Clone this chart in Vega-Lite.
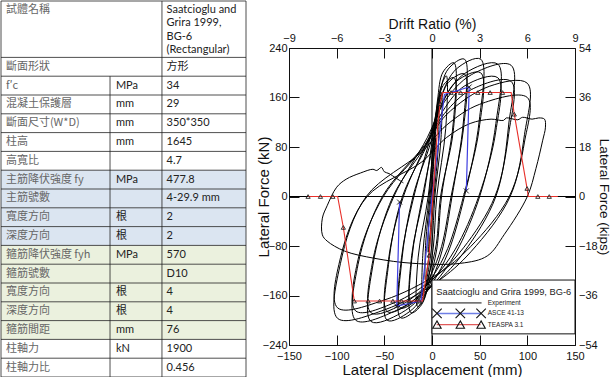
{
  "$schema": "https://vega.github.io/schema/vega-lite/v6.json",
  "width": 286,
  "height": 297,
  "padding": 0,
  "background": "white",
  "config": {
    "view": {"stroke": null},
    "axis": {
      "labelFont": "Liberation Sans",
      "titleFont": "Liberation Sans",
      "labelFontSize": 11,
      "titleFontWeight": "normal",
      "labelColor": "#111",
      "titleColor": "#111",
      "domainColor": "#111",
      "tickColor": "#111",
      "grid": false,
      "tickSize": -10,
      "labelPadding": 13,
      "labelFlush": false,
      "labelOverlap": false,
      "titlePadding": 2
    }
  },
  "layer": [
    {
      "data": {"values": [
        {"top": 0, "bot": 3, "grp": "none", "label": "試體名稱", "unit": "", "value": "Saatcioglu and\nGrira 1999,\nBG-6\n(Rectangular)"},
        {"top": 3, "bot": 4, "grp": "none", "label": "斷面形狀", "unit": "", "value": "方形"},
        {"top": 4, "bot": 5, "grp": "none", "label": "  f′c", "unit": "MPa", "value": "34"},
        {"top": 5, "bot": 6, "grp": "none", "label": "混凝土保護層", "unit": "mm", "value": "29"},
        {"top": 6, "bot": 7, "grp": "none", "label": "斷面尺寸(W*D)", "unit": "mm", "value": "350*350"},
        {"top": 7, "bot": 8, "grp": "none", "label": "柱高", "unit": "mm", "value": "1645"},
        {"top": 8, "bot": 9, "grp": "none", "label": "高寬比", "unit": "", "value": "4.7"},
        {"top": 9, "bot": 10, "grp": "main", "label": "主筋降伏強度 fy", "unit": "MPa", "value": "477.8"},
        {"top": 10, "bot": 11, "grp": "main", "label": "主筋號數", "unit": "", "value": "4-29.9 mm"},
        {"top": 11, "bot": 12, "grp": "main", "label": "寬度方向", "unit": "根", "value": "2"},
        {"top": 12, "bot": 13, "grp": "main", "label": "深度方向", "unit": "根", "value": "2"},
        {"top": 13, "bot": 14, "grp": "hoop", "label": "箍筋降伏強度 fyh", "unit": "MPa", "value": "570"},
        {"top": 14, "bot": 15, "grp": "hoop", "label": "箍筋號數", "unit": "", "value": "D10"},
        {"top": 15, "bot": 16, "grp": "hoop", "label": "寬度方向", "unit": "根", "value": "4"},
        {"top": 16, "bot": 17, "grp": "hoop", "label": "深度方向", "unit": "根", "value": "4"},
        {"top": 17, "bot": 18, "grp": "hoop", "label": "箍筋間距", "unit": "mm", "value": "76"},
        {"top": 18, "bot": 19, "grp": "none", "label": "柱軸力", "unit": "kN", "value": "1900"},
        {"top": 19, "bot": 20, "grp": "none", "label": "柱軸力比", "unit": "", "value": "0.456"}
      ]},
      "layer": [
        {
          "mark": {"type": "rect"},
          "encoding": {
            "x": {"datum": 0, "type": "quantitative", "scale": {"domain": [0, 100], "range": [-288, -43]}, "axis": null},
            "x2": {"datum": 100},
            "y": {"field": "top", "type": "quantitative", "scale": {"domain": [0, 20], "range": [-47, 329]}, "axis": null},
            "y2": {"field": "bot"},
            "color": {"field": "grp", "type": "nominal", "scale": {"domain": ["none", "main", "hoop"], "range": ["#ffffff", "#dbe5f1", "#ebf1de"]}, "legend": null}
          }
        },
        {
          "mark": {"type": "rule", "color": "#222", "strokeWidth": 0.8},
          "encoding": {
            "x": {"datum": 0, "type": "quantitative"},
            "x2": {"datum": 100},
            "y": {"field": "top", "type": "quantitative"}
          }
        },
        {
          "data": {"values": [{}]},
          "mark": {"type": "rule", "color": "#222", "strokeWidth": 0.8},
          "encoding": {
            "x": {"datum": 0, "type": "quantitative"},
            "x2": {"datum": 100},
            "y": {"datum": 20, "type": "quantitative"}
          }
        },
        {
          "data": {"values": [{}]},
          "mark": {"type": "rule", "color": "#222", "strokeWidth": 0.8},
          "encoding": {
            "x": {"datum": 0, "type": "quantitative"},
            "y": {"datum": 0, "type": "quantitative"},
            "y2": {"datum": 20}
          }
        },
        {
          "data": {"values": [{}]},
          "mark": {"type": "rule", "color": "#222", "strokeWidth": 0.8},
          "encoding": {
            "x": {"datum": 65.7, "type": "quantitative"},
            "y": {"datum": 0, "type": "quantitative"},
            "y2": {"datum": 20}
          }
        },
        {
          "data": {"values": [{}]},
          "mark": {"type": "rule", "color": "#222", "strokeWidth": 0.8},
          "encoding": {
            "x": {"datum": 100, "type": "quantitative"},
            "y": {"datum": 0, "type": "quantitative"},
            "y2": {"datum": 20}
          }
        },
        {
          "data": {"values": [{}]},
          "mark": {"type": "rule", "color": "#222", "strokeWidth": 0.8},
          "encoding": {
            "x": {"datum": 44.5, "type": "quantitative"},
            "y": {"datum": 4, "type": "quantitative"},
            "y2": {"datum": 20}
          }
        },
        {
          "transform": [{"filter": "datum.top > 0"}],
          "mark": {"type": "text", "align": "left", "baseline": "middle", "dy": 9.4, "font": "Noto Sans CJK TC", "fontSize": 11, "color": "#666"},
          "encoding": {
            "x": {"datum": 2, "type": "quantitative"},
            "y": {"field": "top", "type": "quantitative"},
            "text": {"field": "label"}
          }
        },
        {
          "transform": [{"filter": "datum.top == 0"}],
          "mark": {"type": "text", "align": "left", "baseline": "top", "dy": 2.5, "font": "Noto Sans CJK TC", "fontSize": 11, "color": "#666"},
          "encoding": {
            "x": {"datum": 2, "type": "quantitative"},
            "y": {"field": "top", "type": "quantitative"},
            "text": {"field": "label"}
          }
        },
        {
          "mark": {"type": "text", "align": "left", "baseline": "middle", "dy": 9.4, "font": "Lato, Noto Sans CJK TC", "fontSize": 11, "color": "#222"},
          "encoding": {
            "x": {"datum": 46.9, "type": "quantitative"},
            "y": {"field": "top", "type": "quantitative"},
            "text": {"field": "unit"}
          }
        },
        {
          "transform": [{"filter": "datum.top > 0"}],
          "mark": {"type": "text", "align": "left", "baseline": "middle", "dy": 9.4, "font": "Lato, Noto Sans CJK TC", "fontSize": 11, "color": "#222"},
          "encoding": {
            "x": {"datum": 67.6, "type": "quantitative"},
            "y": {"field": "top", "type": "quantitative"},
            "text": {"field": "value"}
          }
        },
        {
          "transform": [{"filter": "datum.top == 0"}],
          "mark": {"type": "text", "align": "left", "baseline": "top", "dy": 2.5, "lineBreak": "\n", "lineHeight": 13.6, "font": "Lato", "fontSize": 11, "color": "#222"},
          "encoding": {
            "x": {"datum": 67.6, "type": "quantitative"},
            "y": {"field": "top", "type": "quantitative"},
            "text": {"field": "value"}
          }
        }
      ]
    },
    {
      "layer": [
        {
          "data": {"values": [
            {"d": 0, "f": 0},
            {"d": 2, "f": 60}, {"d": 4, "f": 95}, {"d": 3.7, "f": 55}, {"d": 1, "f": 0}, {"d": -1.5, "f": -50}, {"d": -4, "f": -90},
            {"d": -3.7, "f": -50}, {"d": -1, "f": 0}, {"d": 2, "f": 70}, {"d": 4.5, "f": 115}, {"d": 7, "f": 140}, {"d": 6.6, "f": 80}, {"d": 2, "f": 0}, {"d": -1.5, "f": -65}, {"d": -4.5, "f": -112}, {"d": -7, "f": -135},
            {"d": -6.6, "f": -75}, {"d": -2, "f": 0}, {"d": 1.5, "f": 75}, {"d": 5.5, "f": 135}, {"d": 10, "f": 168}, {"d": 9.5, "f": 95}, {"d": 3, "f": 0}, {"d": 0, "f": -75}, {"d": -5, "f": -130}, {"d": -10, "f": -160},
            {"d": -9.5, "f": -90}, {"d": -3, "f": 0}, {"d": 1, "f": 80}, {"d": 6, "f": 150}, {"d": 10, "f": 180}, {"d": 15, "f": 195}, {"d": 14.4, "f": 110}, {"d": 5, "f": 0}, {"d": 1.5, "f": -80}, {"d": -4, "f": -135}, {"d": -9, "f": -168}, {"d": -15, "f": -178},
            {"d": -14.5, "f": -98}, {"d": -4, "f": 0}, {"d": 2.2, "f": 97}, {"d": 5.8, "f": 156}, {"d": 11.5, "f": 201}, {"d": 23, "f": 216}, {"d": 22.3, "f": 119}, {"d": 10, "f": 0}, {"d": 5, "f": -85}, {"d": -2, "f": -132}, {"d": -11, "f": -175}, {"d": -22, "f": -188},
            {"d": -21.3, "f": -103}, {"d": -10, "f": 0}, {"d": 1, "f": 86}, {"d": 5.8, "f": 138}, {"d": 11.5, "f": 179}, {"d": 23, "f": 192}, {"d": 22.3, "f": 106}, {"d": 9, "f": 0}, {"d": 4.5, "f": -77}, {"d": -2.1, "f": -120}, {"d": -11, "f": -160}, {"d": -22, "f": -172},
            {"d": -21.3, "f": -95}, {"d": -9, "f": 0}, {"d": 1.2, "f": 100}, {"d": 7.1, "f": 160}, {"d": 17, "f": 206}, {"d": 34, "f": 222}, {"d": 33, "f": 122}, {"d": 21, "f": 0}, {"d": 10.5, "f": -88}, {"d": -0.9, "f": -137}, {"d": -16.5, "f": -182}, {"d": -33, "f": -196},
            {"d": -32, "f": -108}, {"d": -20, "f": 0}, {"d": -1, "f": 89}, {"d": 7.1, "f": 143}, {"d": 17, "f": 184}, {"d": 34, "f": 198}, {"d": 33, "f": 109}, {"d": 20, "f": 0}, {"d": 10, "f": -81}, {"d": -1, "f": -126}, {"d": -16.5, "f": -167}, {"d": -33, "f": -180},
            {"d": -32, "f": -99}, {"d": -19, "f": 0}, {"d": -0.8, "f": 100}, {"d": 9.1, "f": 160}, {"d": 25.5, "f": 206}, {"d": 51, "f": 222}, {"d": 49.5, "f": 122}, {"d": 34, "f": 0}, {"d": 17, "f": -90}, {"d": 0.4, "f": -140}, {"d": -23.5, "f": -186}, {"d": -47, "f": -200},
            {"d": -45.6, "f": -110}, {"d": -31, "f": 0}, {"d": -3.2, "f": 90}, {"d": 9.1, "f": 144}, {"d": 25.5, "f": 186}, {"d": 51, "f": 200}, {"d": 49.5, "f": 110}, {"d": 33, "f": 0}, {"d": 16.5, "f": -84}, {"d": 0.3, "f": -130}, {"d": -23.5, "f": -173}, {"d": -47, "f": -186},
            {"d": -45.6, "f": -102}, {"d": -30, "f": 0}, {"d": -3, "f": 96}, {"d": 11.3, "f": 154}, {"d": 34.5, "f": 199}, {"d": 69, "f": 214}, {"d": 67, "f": 118}, {"d": 50, "f": 0}, {"d": 25, "f": -91}, {"d": 2, "f": -141}, {"d": -32, "f": -188}, {"d": -64, "f": -202},
            {"d": -62, "f": -111}, {"d": -41, "f": 0}, {"d": -5.2, "f": 86}, {"d": 11.3, "f": 138}, {"d": 34.5, "f": 179}, {"d": 69, "f": 192}, {"d": 67, "f": 106}, {"d": 49, "f": 0}, {"d": 24.5, "f": -85}, {"d": 1.9, "f": -132}, {"d": -32, "f": -175}, {"d": -64, "f": -188},
            {"d": -62, "f": -103}, {"d": -40, "f": 0}, {"d": -5, "f": 95}, {"d": 13, "f": 153}, {"d": 41.5, "f": 197}, {"d": 83, "f": 212}, {"d": 80.5, "f": 117}, {"d": 67, "f": 0}, {"d": 33.5, "f": -90}, {"d": 3.7, "f": -140}, {"d": -40, "f": -186}, {"d": -80, "f": -200},
            {"d": -77.6, "f": -110}, {"d": -52, "f": 0}, {"d": -7.4, "f": 84}, {"d": 13, "f": 134}, {"d": 41.5, "f": 173}, {"d": 83, "f": 186}, {"d": 80.5, "f": 102}, {"d": 66, "f": 0}, {"d": 33, "f": -83}, {"d": 3.6, "f": -130}, {"d": -40, "f": -172}, {"d": -80, "f": -185},
            {"d": -77.6, "f": -102}, {"d": -51, "f": 0}, {"d": -7.2, "f": 82}, {"d": 15, "f": 132}, {"d": 60, "f": 178}, {"d": 100, "f": 183}, {"d": 97, "f": 100}, {"d": 82, "f": 0}, {"d": 41, "f": -89}, {"d": 5.2, "f": -138}, {"d": -49.5, "f": -183}, {"d": -99, "f": -197},
            {"d": -96, "f": -108}, {"d": -69, "f": 0}, {"d": -10.8, "f": 72}, {"d": 15, "f": 115}, {"d": 50, "f": 149}, {"d": 100, "f": 160}, {"d": 97, "f": 88}, {"d": 81, "f": 0}, {"d": 40.5, "f": -81}, {"d": 5.1, "f": -126}, {"d": -49.5, "f": -167}, {"d": -99, "f": -180},
            {"d": -96, "f": -99}, {"d": -68, "f": 0}, {"d": -10.6, "f": 56}, {"d": 15, "f": 95}, {"d": 40, "f": 118}, {"d": 62, "f": 125}, {"d": 75, "f": 123}, {"d": 78, "f": 127}, {"d": 90, "f": 124}, {"d": 95, "f": 128}, {"d": 105, "f": 125}, {"d": 112, "f": 127}, {"d": 118, "f": 125},
            {"d": 119, "f": 112}, {"d": 116, "f": 90}, {"d": 109, "f": 45}, {"d": 100, "f": 0}, {"d": 76, "f": -61}, {"d": 58, "f": -96}, {"d": 30, "f": -108}, {"d": -20, "f": -108}, {"d": -60, "f": -100}, {"d": -92, "f": -88}, {"d": -110, "f": -72}, {"d": -115, "f": -62},
            {"d": -115, "f": -35}, {"d": -110, "f": -15}, {"d": -100, "f": 15}, {"d": -90, "f": 28}, {"d": -75, "f": 38}, {"d": -62, "f": 44}, {"d": -58, "f": 42}, {"d": -53, "f": 47}, {"d": -50, "f": 40}, {"d": -45, "f": 37}, {"d": -38, "f": 30}, {"d": -30, "f": 22}
          ]},
          "mark": {"type": "line", "color": "#000", "strokeWidth": 1, "interpolate": "catmull-rom"},
          "encoding": {
            "x": {"field": "d", "type": "quantitative", "scale": {"domain": [-150, 150], "nice": false},
                  "axis": {"orient": "bottom", "values": [-150, -100, -50, 0, 50, 100, 150], "title": "Lateral Displacement (mm)", "titleFontSize": 15, "labelPadding": 15, "titlePadding": 1}},
            "y": {"field": "f", "type": "quantitative", "scale": {"domain": [-240, 240], "nice": false},
                  "axis": {"orient": "left", "values": [-240, -160, -80, 0, 80, 160, 240], "title": "Lateral Force (kN)", "titleFontSize": 15, "labelPadding": 12, "titlePadding": -9}},
            "order": {"value": null}
          }
        },
        {
          "data": {"values": [{}]},
          "mark": {"type": "rule", "color": "#000", "strokeWidth": 1},
          "encoding": {"y": {"datum": 0, "type": "quantitative"}}
        },
        {
          "data": {"values": [{}]},
          "mark": {"type": "rule", "color": "#000", "strokeWidth": 1},
          "encoding": {"x": {"datum": 0, "type": "quantitative"}}
        },
        {
          "data": {"values": [
            {"d": -34, "f": -9, "m": 1}, {"d": -37, "f": -177, "m": 1}, {"d": -11.5, "f": -169, "m": 0}, {"d": 0, "f": 0, "m": 0},
            {"d": 13, "f": 165, "m": 0}, {"d": 39, "f": 177, "m": 1}, {"d": 36, "f": 9, "m": 1}
          ]},
          "layer": [
            {
              "mark": {"type": "line", "color": "#3d3de0", "strokeWidth": 1.2},
              "encoding": {
                "x": {"field": "d", "type": "quantitative"},
                "y": {"field": "f", "type": "quantitative"},
                "order": {"value": null}
              }
            },
            {
              "transform": [{"filter": "datum.m == 1"}],
              "mark": {"type": "point", "shape": "M-1,-1L1,1M-1,1L1,-1", "size": 25, "filled": false, "stroke": "#111", "strokeWidth": 0.9, "opacity": 1},
              "encoding": {
                "x": {"field": "d", "type": "quantitative"},
                "y": {"field": "f", "type": "quantitative"}
              }
            }
          ]
        },
        {
          "data": {"values": [
            {"d": -130, "f": 0, "m": 1}, {"d": -117, "f": 0, "m": 1}, {"d": -104, "f": 0, "m": 1}, {"d": -99, "f": 0, "m": 0},
            {"d": -93, "f": -50, "m": 1}, {"d": -81.5, "f": -169, "m": 1}, {"d": -67, "f": -169, "m": 1}, {"d": -55, "f": -169, "m": 1},
            {"d": -41, "f": -169, "m": 1}, {"d": -32, "f": -169, "m": 1}, {"d": -24, "f": -169, "m": 1}, {"d": -13.6, "f": -169, "m": 1},
            {"d": -10, "f": -169, "m": 0}, {"d": -3, "f": -95, "m": 1}, {"d": 1, "f": 0, "m": 0}, {"d": 6, "f": 114, "m": 0},
            {"d": 8.4, "f": 150, "m": 1}, {"d": 11, "f": 168, "m": 0}, {"d": 20, "f": 168, "m": 1}, {"d": 30, "f": 168, "m": 1},
            {"d": 48, "f": 168, "m": 1}, {"d": 61, "f": 168, "m": 1}, {"d": 74, "f": 168, "m": 1}, {"d": 83, "f": 168, "m": 0},
            {"d": 86.3, "f": 133, "m": 1}, {"d": 99.7, "f": 13, "m": 1}, {"d": 101, "f": 0, "m": 0}, {"d": 111, "f": 0, "m": 1},
            {"d": 123, "f": 0, "m": 1}, {"d": 132, "f": 0, "m": 0}
          ]},
          "layer": [
            {
              "mark": {"type": "line", "color": "#e8302a", "strokeWidth": 1.1},
              "encoding": {
                "x": {"field": "d", "type": "quantitative"},
                "y": {"field": "f", "type": "quantitative"},
                "order": {"value": null}
              }
            },
            {
              "transform": [{"filter": "datum.m == 1"}],
              "mark": {"type": "point", "shape": "triangle-up", "size": 18, "filled": false, "stroke": "#222", "strokeWidth": 0.9, "opacity": 1},
              "encoding": {
                "x": {"field": "d", "type": "quantitative"},
                "y": {"field": "f", "type": "quantitative"}
              }
            }
          ]
        },
        {
          "data": {"values": [{}]},
          "mark": {"type": "rect", "fill": "white", "stroke": "#111", "strokeWidth": 1},
          "encoding": {
            "x": {"datum": 0, "type": "quantitative"}, "x2": {"datum": 150},
            "y": {"datum": -135, "type": "quantitative"}, "y2": {"datum": -222}
          }
        },
        {
          "data": {"values": [{}]},
          "mark": {"type": "text", "text": "Saatcioglu and Grira 1999, BG-6", "align": "left", "baseline": "middle", "font": "Liberation Sans", "fontSize": 9.3, "color": "#222"},
          "encoding": {"x": {"datum": 4.5, "type": "quantitative"}, "y": {"datum": -154, "type": "quantitative"}}
        },
        {
          "data": {"values": [{}]},
          "mark": {"type": "rule", "color": "#111", "strokeWidth": 1},
          "encoding": {"x": {"datum": 6, "type": "quantitative"}, "x2": {"datum": 52}, "y": {"datum": -172, "type": "quantitative"}}
        },
        {
          "data": {"values": [{}]},
          "mark": {"type": "rule", "color": "#6f7fe6", "strokeWidth": 1.4},
          "encoding": {"x": {"datum": 5, "type": "quantitative"}, "x2": {"datum": 51}, "y": {"datum": -189, "type": "quantitative"}}
        },
        {
          "data": {"values": [{}]},
          "mark": {"type": "rule", "color": "#e05a5a", "strokeWidth": 1.4},
          "encoding": {"x": {"datum": 5, "type": "quantitative"}, "x2": {"datum": 51}, "y": {"datum": -207, "type": "quantitative"}}
        },
        {
          "data": {"values": [{}]},
          "mark": {"type": "point", "shape": "M-1,-1L1,1M-1,1L1,-1", "size": 90, "filled": false, "stroke": "#111", "strokeWidth": 1.1, "opacity": 1},
          "encoding": {"x": {"datum": 5.2, "type": "quantitative"}, "y": {"datum": -189, "type": "quantitative"}}
        },
        {
          "data": {"values": [{}]},
          "mark": {"type": "point", "shape": "M-1,-1L1,1M-1,1L1,-1", "size": 90, "filled": false, "stroke": "#111", "strokeWidth": 1.1, "opacity": 1},
          "encoding": {"x": {"datum": 29.7, "type": "quantitative"}, "y": {"datum": -189, "type": "quantitative"}}
        },
        {
          "data": {"values": [{}]},
          "mark": {"type": "point", "shape": "M-1,-1L1,1M-1,1L1,-1", "size": 90, "filled": false, "stroke": "#111", "strokeWidth": 1.1, "opacity": 1},
          "encoding": {"x": {"datum": 51.5, "type": "quantitative"}, "y": {"datum": -189, "type": "quantitative"}}
        },
        {
          "data": {"values": [{}]},
          "mark": {"type": "point", "shape": "triangle-up", "size": 70, "filled": false, "stroke": "#111", "strokeWidth": 1.1, "opacity": 1},
          "encoding": {"x": {"datum": 5.2, "type": "quantitative"}, "y": {"datum": -207, "type": "quantitative"}}
        },
        {
          "data": {"values": [{}]},
          "mark": {"type": "point", "shape": "triangle-up", "size": 70, "filled": false, "stroke": "#111", "strokeWidth": 1.1, "opacity": 1},
          "encoding": {"x": {"datum": 29.7, "type": "quantitative"}, "y": {"datum": -207, "type": "quantitative"}}
        },
        {
          "data": {"values": [{}]},
          "mark": {"type": "point", "shape": "triangle-up", "size": 70, "filled": false, "stroke": "#111", "strokeWidth": 1.1, "opacity": 1},
          "encoding": {"x": {"datum": 51.5, "type": "quantitative"}, "y": {"datum": -207, "type": "quantitative"}}
        },
        {
          "data": {"values": [{}]},
          "mark": {"type": "text", "text": "Experiment", "align": "left", "baseline": "middle", "font": "Liberation Sans", "fontSize": 6.5, "color": "#222"},
          "encoding": {"x": {"datum": 58.5, "type": "quantitative"}, "y": {"datum": -172, "type": "quantitative"}}
        },
        {
          "data": {"values": [{}]},
          "mark": {"type": "text", "text": "ASCE 41-13", "align": "left", "baseline": "middle", "font": "Liberation Sans", "fontSize": 6.5, "color": "#222"},
          "encoding": {"x": {"datum": 58.5, "type": "quantitative"}, "y": {"datum": -189, "type": "quantitative"}}
        },
        {
          "data": {"values": [{}]},
          "mark": {"type": "text", "text": "TEASPA 3.1", "align": "left", "baseline": "middle", "font": "Liberation Sans", "fontSize": 6.5, "color": "#222"},
          "encoding": {"x": {"datum": 58.5, "type": "quantitative"}, "y": {"datum": -207, "type": "quantitative"}}
        }
      ]
    },
    {
      "data": {"values": [{}]},
      "mark": {"type": "point", "opacity": 0},
      "encoding": {
        "x": {"datum": 0, "type": "quantitative", "scale": {"domain": [-9, 9], "nice": false},
              "axis": {"orient": "top", "values": [-9, -6, -3, 0, 3, 6, 9], "title": "Drift Ratio (%)", "titleFontSize": 14, "labelPadding": 15, "titlePadding": 1}}
      }
    },
    {
      "data": {"values": [{}]},
      "mark": {"type": "point", "opacity": 0},
      "encoding": {
        "y": {"datum": 0, "type": "quantitative", "scale": {"domain": [-54, 54], "nice": false},
              "axis": {"orient": "right", "values": [-54, -36, -18, 0, 18, 36, 54], "title": "Lateral Force (kips)", "titleFontSize": 13.5, "labelPadding": 13.5, "titlePadding": -0.5}}
      }
    }
  ],
  "resolve": {"scale": {"x": "independent", "y": "independent"}}
}
